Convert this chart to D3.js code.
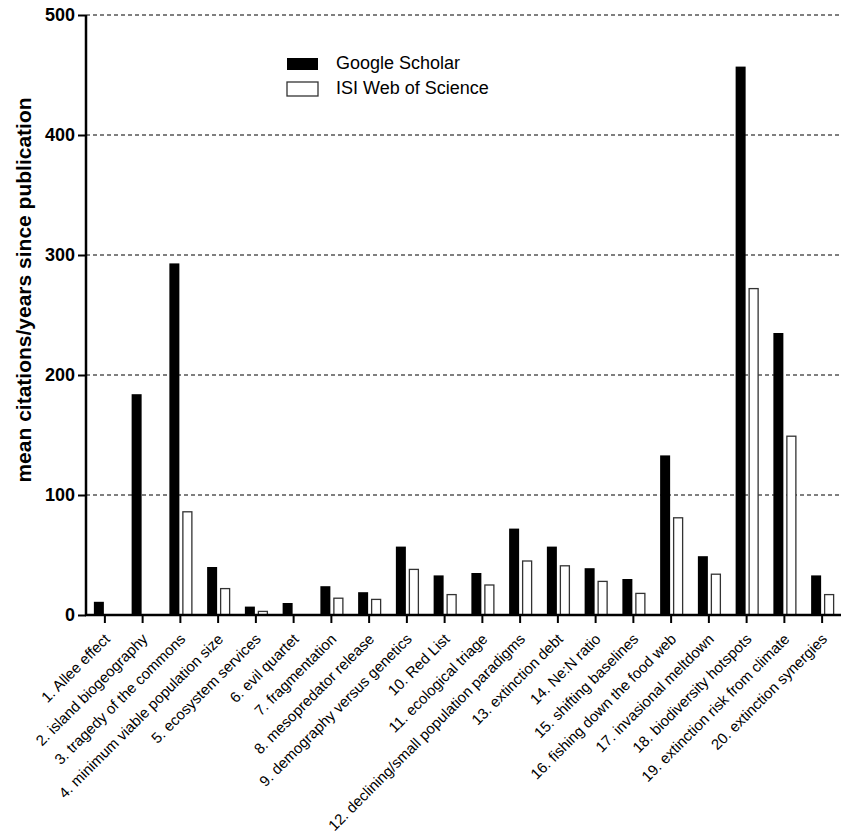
<!DOCTYPE html>
<html>
<head>
<meta charset="utf-8">
<script src="https://cdn.jsdelivr.net/npm/d3@7"></script>
<style>
  body { margin: 0; background: #fff; }
  svg { display: block; font-family: Arial, "Liberation Sans", sans-serif; }
</style>
</head>
<body>
<svg id="chart" width="842" height="840"></svg>
<script>
var topics = ['1. Allee effect', '2. island biogeography', '3. tragedy of the commons',
  '4. minimum viable population size', '5. ecosystem services', '6. evil quartet',
  '7. fragmentation', '8. mesopredator release', '9. demography versus genetics',
  '10. Red List', '11. ecological triage', '12. declining/small population paradigms',
  '13. extinction debt', '14. Ne:N ratio', '15. shifting baselines',
  '16. fishing down the food web', '17. invasional meltdown', '18. biodiversity hotspots',
  '19. extinction risk from climate', '20. extinction synergies']
var googleScholar = [11, 184, 293, 40, 7, 10, 24, 19, 57, 33, 35, 72, 57, 39, 30, 133, 49, 457, 235, 33]
var webOfScience = [0, 0, 86, 22, 3, 0, 14, 13, 38, 17, 25, 45, 41, 28, 18, 81, 34, 272, 149, 17]
var yTicks = [0, 100, 200, 300, 400, 500]
var seriesNames = ['Google Scholar', 'ISI Web of Science']

var svg = d3.select('#chart')
var plotLeft = 86, plotRight = 841, plotTop = 15, plotBottom = 615

var x = d3.scaleBand().domain(topics).range([plotLeft, plotRight])
var y = d3.scaleLinear().domain([0, 500]).range([plotBottom, plotTop])

// gridlines
svg.append('g').selectAll('line')
  .data(yTicks.filter(function (d) { return d > 0 }))
  .enter().append('line')
  .attr('x1', plotLeft).attr('x2', 842)
  .attr('y1', function (d) { return y(d) }).attr('y2', function (d) { return y(d) })
  .attr('stroke', '#000').attr('stroke-width', 1)
  .attr('stroke-dasharray', '4, 3')

// bars
var groups = svg.append('g').selectAll('g')
  .data(topics)
  .enter().append('g')

groups.append('rect')
  .attr('x', function (d) { return x(d) + x.bandwidth() / 2 - 11 })
  .attr('y', function (d, i) { return y(googleScholar[i]) })
  .attr('width', 10)
  .attr('height', function (d, i) { return plotBottom - y(googleScholar[i]) })
  .attr('fill', '#000')

groups.filter(function (d, i) { return webOfScience[i] > 0 })
  .append('rect')
  .attr('x', function (d) { return x(d) + x.bandwidth() / 2 + 2.5 })
  .attr('y', function (d) { return y(webOfScience[topics.indexOf(d)]) })
  .attr('width', 9)
  .attr('height', function (d) { return plotBottom - y(webOfScience[topics.indexOf(d)]) })
  .attr('fill', '#fff')
  .attr('stroke', '#333').attr('stroke-width', 1.3)

// y axis
var yAxis = svg.append('g')
  .attr('transform', 'translate(' + plotLeft + ',0)')
  .call(d3.axisLeft(y).tickValues(yTicks).tickSize(8).tickPadding(3))
yAxis.select('.domain').attr('stroke-width', 2.5).attr('d', 'M0,' + plotTop + 'V' + (plotBottom + 1))
yAxis.selectAll('.tick line').attr('stroke-width', 2)
yAxis.selectAll('.tick text')
  .attr('font-size', '18px').attr('font-weight', 'bold')
  .attr('font-family', 'Arial, "Liberation Sans", sans-serif').attr('fill', '#000')

// x axis
var xAxis = svg.append('g')
  .attr('transform', 'translate(0,' + plotBottom + ')')
  .call(d3.axisBottom(x).tickSize(8).tickSizeOuter(0))
xAxis.select('.domain').attr('stroke-width', 2.5).attr('d', 'M' + (plotLeft - 1) + ',0H' + plotRight)
xAxis.selectAll('.tick line').attr('stroke-width', 2)
xAxis.selectAll('.tick text')
  .attr('font-size', '15px')
  .attr('font-family', 'Arial, "Liberation Sans", sans-serif').attr('fill', '#000')
  .attr('text-anchor', 'end')
  .attr('dy', null)
  .attr('y', 0)
  .attr('transform', 'translate(6,25) rotate(-45)')

// y title
svg.append('text')
  .attr('transform', 'translate(31,290) rotate(-90)')
  .attr('text-anchor', 'middle')
  .attr('font-size', '21px').attr('font-weight', 'bold')
  .text('mean citations/years since publication')

// legend
var legend = svg.append('g').selectAll('g')
  .data(seriesNames)
  .enter().append('g')
  .attr('transform', function (d, i) { return 'translate(287,' + (57 + i * 25) + ')' })
legend.append('rect')
  .attr('width', 31).attr('height', function (d, i) { return i === 0 ? 12 : 14 })
  .attr('y', function (d, i) { return i === 0 ? 1 : 0 })
  .attr('fill', function (d, i) { return i === 0 ? '#000' : '#fff' })
  .attr('stroke', function (d, i) { return i === 0 ? 'none' : '#333' })
  .attr('stroke-width', 1.3)
legend.append('text')
  .attr('x', 49).attr('y', 12)
  .attr('font-size', '18px')
  .text(function (d) { return d })
</script>
</body>
</html>
